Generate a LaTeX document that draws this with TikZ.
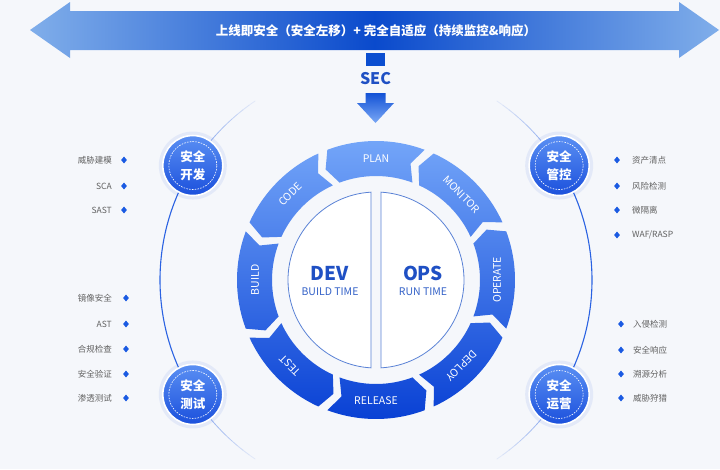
\documentclass[tikz,border=0pt]{standalone}
\usepackage{fontspec}
\setmainfont{Noto Sans CJK SC}
\usetikzlibrary{shapes.geometric}
\definecolor{bg}{HTML}{F5F7FB}
\definecolor{ringtop}{HTML}{74A6F9}
\definecolor{ringbot}{HTML}{0840D4}
\definecolor{bannerend}{HTML}{80AEEA}
\definecolor{bannermid}{HTML}{0A4ACC}
\definecolor{deepblue}{HTML}{1F50C4}
\definecolor{subblue}{HTML}{3462C8}
\definecolor{halfline}{HTML}{5A82D6}
\definecolor{itemgray}{HTML}{606060}
\definecolor{dotblue}{HTML}{1A5AE2}
\definecolor{arcblue}{HTML}{2A62E2}
\definecolor{badgetop}{HTML}{5A8FF3}
\definecolor{badgebot}{HTML}{1B50DC}
\definecolor{sqblue}{HTML}{0B4ED0}
\definecolor{arrtop}{HTML}{1352D6}
\definecolor{arrbot}{HTML}{7AA8F5}
\begin{document}
\begin{tikzpicture}[x=1pt,y=1pt,
  seglabel/.style={text=white,font=\fontsize{10.5}{12}\selectfont,inner sep=0pt},
  itemL/.style={text=itemgray,font=\fontsize{8.5}{10}\selectfont,inner sep=0pt,anchor=east},
  itemR/.style={text=itemgray,font=\fontsize{8.5}{10}\selectfont,inner sep=0pt,anchor=west},
  dot/.style={diamond,fill=dotblue,minimum width=6pt,minimum height=7pt,inner sep=0pt},
  badge/.style={circle,minimum size=60pt,inner sep=0pt,top color=badgetop,bottom color=badgebot,draw=white,line width=1.6pt,text=white,align=center,font=\bfseries\fontsize{12.5}{18}\selectfont},
  badgeglow/.style={fill=badgebot,opacity=0.08},
  innerdash/.style={draw=white,dash pattern=on 1.6pt off 1.2pt,line width=0.6pt},
  halfbox/.style={fill=white,draw=halfline,line width=0.8pt},
  bigtxt/.style={text=deepblue,font=\bfseries\fontsize{19}{22}\selectfont,inner sep=0pt},
  subtxt/.style={text=subblue,font=\fontsize{10.5}{12}\selectfont,inner sep=0pt},
  mainarc/.style={draw=arcblue,line width=1.1pt},
  fadearc/.style={draw=arcblue,line width=0.8pt}
]
\useasboundingbox (0,0) rectangle (720,-469);
\fill[bg] (0,0) rectangle (720,-469);
\coordinate (W) at (376,-280);

% banner double arrow
\shade[left color=bannerend,right color=bannerend,middle color=bannermid]
  (30,-30) -- (70,-2) -- (70,-11) -- (679,-11) -- (679,-2) -- (719,-30)
  -- (679,-58) -- (679,-50) -- (70,-50) -- (70,-58) -- cycle;
\node[text=white,font=\bfseries\fontsize{12.5}{14}\selectfont] (banner) at (376,-31)
  {上线即安全（安全左移）+ 完全自适应（持续监控\&响应）};

% SEC marker
\fill[sqblue] (366,-53) rectangle (385,-66);
\node[text=deepblue,font=\bfseries\fontsize{16}{18}\selectfont,inner sep=0pt] (sec) at (375.5,-79) {SEC};
\shade[top color=arrtop,bottom color=arrbot]
  (365.5,-93) -- (385.5,-93) -- (385.5,-103) -- (394,-103) -- (375.5,-123)
  -- (357,-103) -- (365.5,-103) -- cycle;

% big outer circle arcs
\begin{scope}[shift={(376,-280)}]
  \draw[mainarc] (148:216) arc[start angle=148,end angle=212,radius=216pt];
  \draw[mainarc] (-32:216) arc[start angle=-32,end angle=32,radius=216pt];
  \foreach \i in {0,...,7} {
    \pgfmathsetmacro\op{0.45-0.05*\i}
    \pgfmathsetmacro\aa{140-2*\i}
    \pgfmathsetmacro\ab{220+2*\i}
    \pgfmathsetmacro\ac{40+2*\i}
    \pgfmathsetmacro\ad{-40-2*\i}
    \draw[fadearc,opacity=\op] (\aa:216) arc[start angle=\aa,delta angle=-2,radius=216pt];
    \draw[fadearc,opacity=\op] (\ab:216) arc[start angle=\ab,delta angle=2,radius=216pt];
    \draw[fadearc,opacity=\op] (\ac:216) arc[start angle=\ac,delta angle=2,radius=216pt];
    \draw[fadearc,opacity=\op] (\ad:216) arc[start angle=\ad,delta angle=-2,radius=216pt];
  }
  \draw[fadearc,opacity=0.45] (140:216) arc[start angle=140,end angle=148,radius=216pt];
  \draw[fadearc,opacity=0.45] (212:216) arc[start angle=212,end angle=220,radius=216pt];
  \draw[fadearc,opacity=0.45] (32:216) arc[start angle=32,end angle=40,radius=216pt];
  \draw[fadearc,opacity=0.45] (-32:216) arc[start angle=-32,end angle=-40,radius=216pt];

  % ring segments
  \shade[top color=ringtop,bottom color=ringbot]
    foreach \c in {90,45,0,-45,-90,-135,-180,-225} {
      ({\c-20.5}:139) arc[start angle={\c-20.5}, end angle={\c+20.5}, radius=139pt]
      -- ({\c+24.5}:121.5) -- ({\c+20.5}:104)
      arc[start angle={\c+20.5}, end angle={\c-20.5}, radius=104pt]
      -- ({\c-16.5}:121.5) -- cycle
    };

  % inner halves
  \path[halfbox] (93.26:88) arc[start angle=93.26,end angle=266.74,radius=88pt] -- cycle;
  \path[halfbox] (-86.74:88) arc[start angle=-86.74,end angle=86.74,radius=88pt] -- cycle;

  % segment labels
  \node[seglabel] (plan) at (90:121) {PLAN};
  \node[seglabel,rotate=-45] (monitor) at (45:121) {MONITOR};
  \node[seglabel,rotate=90] (operate) at (0:121) {OPERATE};
  \node[seglabel,rotate=225] (deploy) at (-45:121) {DEPLOY};
  \node[seglabel] (release) at (-90:121) {RELEASE};
  \node[seglabel,rotate=135] (test) at (-135:121) {TEST};
  \node[seglabel,rotate=90] (build) at (180:121) {BUILD};
  \node[seglabel,rotate=45] (code) at (135:121) {CODE};

  % badges
  \foreach \ang/\nm/\txt in {148/b1/安全\\开发, 212/b2/安全\\测试, 32/b3/安全\\管控, -32/b4/安全\\运营} {
    \fill[badgeglow] (\ang:216) circle (34pt);
    \node[badge] (\nm) at (\ang:216) {\txt};
    \path[innerdash] (\nm.center) circle (24pt);
  }
\end{scope}

% DEV / OPS
\node[bigtxt] (dev) at (330,-273) {DEV};
\node[subtxt] (devsub) at (330,-292) {BUILD TIME};
\node[bigtxt] (ops) at (423,-273) {OPS};
\node[subtxt] (opssub) at (423,-292) {RUN TIME};

% left top list
\foreach \y/\nm/\txt in {160/l1/威胁建模, 186/l2/SCA, 210/l3/SAST} {
  \node[dot] (d\nm) at (124,-\y) {};
  \node[itemL] (\nm) at (112,-\y) {\txt};
}
% left bottom list
\foreach \y/\nm/\txt in {298/l4/镜像安全, 324/l5/AST, 349/l6/合规检查, 374/l7/安全验证, 398/l8/渗透测试} {
  \node[dot] (d\nm) at (126,-\y) {};
  \node[itemL] (\nm) at (112,-\y) {\txt};
}
% right top list
\foreach \y/\nm/\txt in {160/r1/{资产清点}, 186/r2/{风险检测}, 210/r3/{微隔离}, 235/r4/{WAF/RASP}} {
  \node[dot] (d\nm) at (617,-\y) {};
  \node[itemR] (\nm) at (632,-\y) {\txt};
}
% right bottom list
\foreach \y/\nm/\txt in {324/r5/入侵检测, 350/r6/安全响应, 374/r7/溯源分析, 398/r8/威胁狩猎} {
  \node[dot] (d\nm) at (621,-\y) {};
  \node[itemR] (\nm) at (633,-\y) {\txt};
}
\end{tikzpicture}
\end{document}
